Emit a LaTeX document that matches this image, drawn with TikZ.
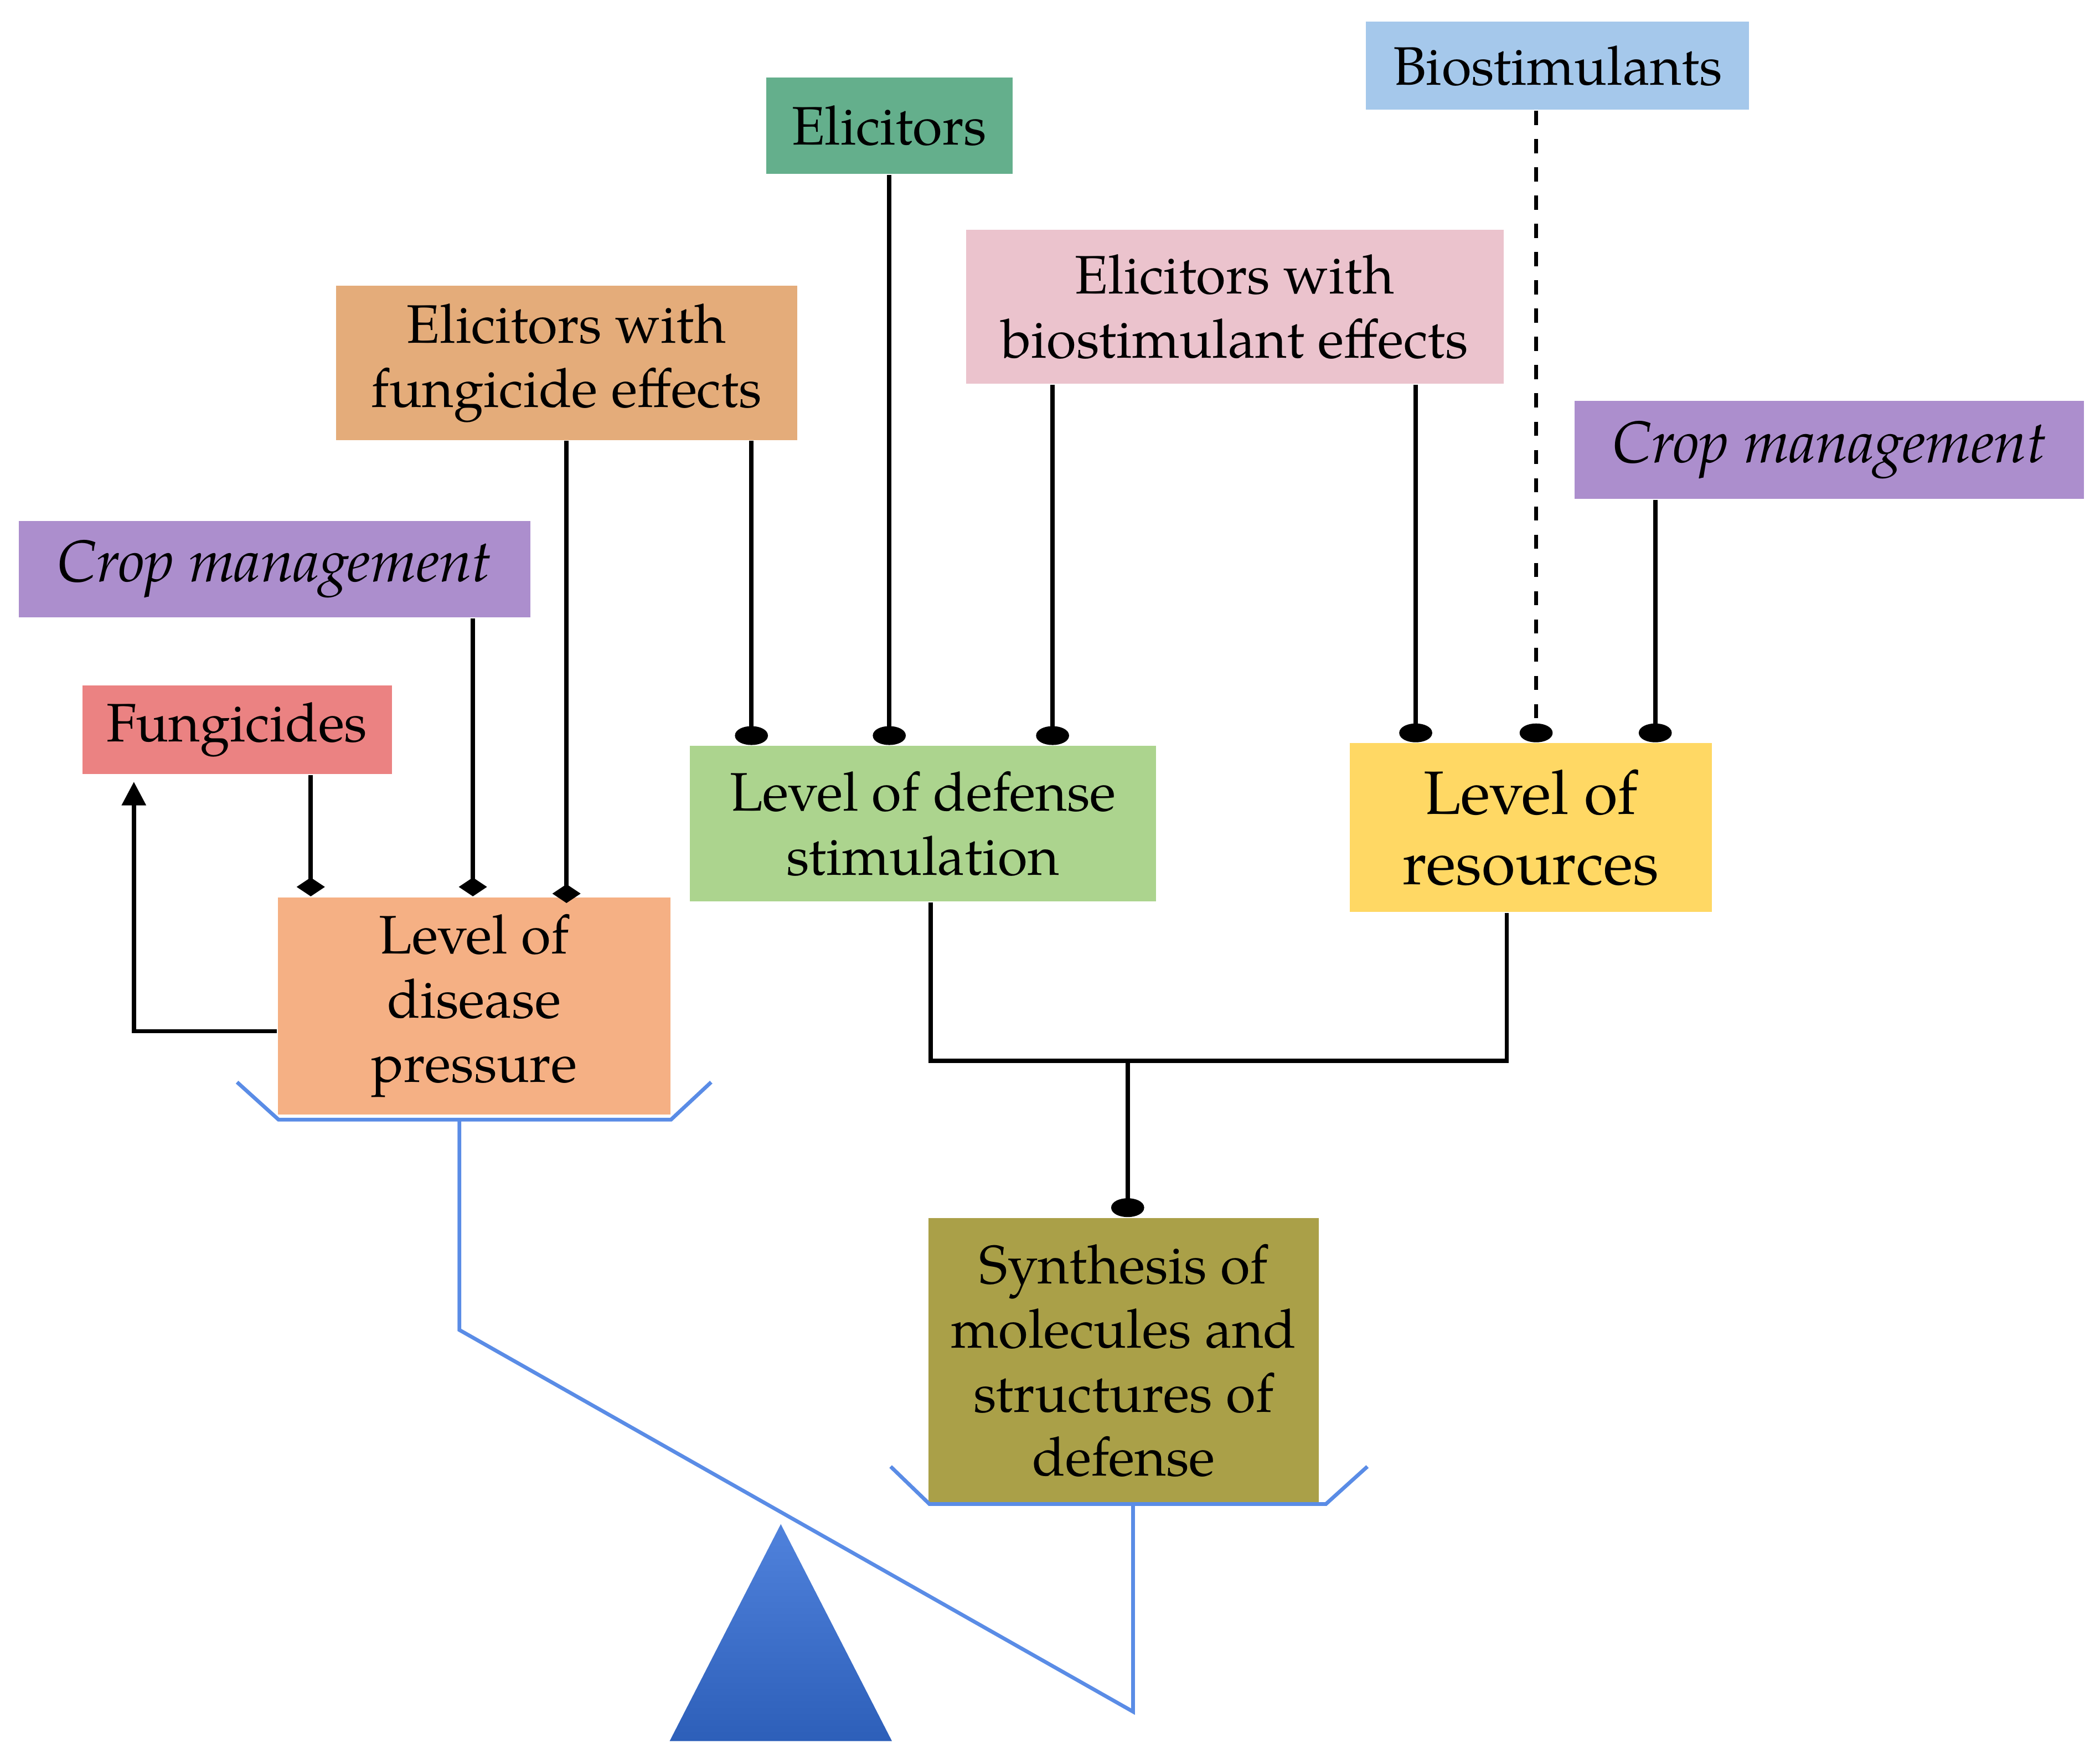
\documentclass[tikz,border=0pt]{standalone}
\usepackage{fontspec}
\setmainfont{TeX Gyre Pagella}[Scale=1]
\usetikzlibrary{arrows.meta}
\begin{document}
\begin{tikzpicture}[x=0.01cm,y=-0.01cm,
  box/.style={inner sep=0pt,align=center,font=\fontsize{11.5}{13.6}\selectfont},
  dot/.style={line width=0.9pt,-{Ellipse[length=4pt,width=7pt]}},
  dia/.style={line width=0.9pt,-{Diamond[length=4pt,width=6pt]}},
  scl/.style={draw={rgb,255:red,90;green,140;blue,230},line width=0.8pt}]
\useasboundingbox (0,0) rectangle (1568,1313);
\definecolor{cblue}{RGB}{165,200,235}
\definecolor{cgreen}{RGB}{100,175,140}
\definecolor{cpink}{RGB}{235,195,205}
\definecolor{corange}{RGB}{228,172,122}
\definecolor{cpurple}{RGB}{172,142,205}
\definecolor{cred}{RGB}{235,130,130}
\definecolor{clgreen}{RGB}{172,212,142}
\definecolor{cyellow}{RGB}{255,216,100}
\definecolor{csalmon}{RGB}{245,176,132}
\definecolor{colive}{RGB}{170,160,72}
\newcommand{\bx}[7]{\node[box,fill=#2,minimum width=#5cm-#4cm,minimum height=#7cm-#6cm] (#1) at ({(#4+#5)/2},{(#6+#7)/2}) {#3};}
\node[box,fill=cblue,minimum width=2.86cm,minimum height=0.66cm] (bio) at (1163,49) {Biostimulants};
\node[box,fill=cgreen,minimum width=1.84cm,minimum height=0.72cm] (eli) at (664,94) {Elicitors};
\node[box,fill=cpink,minimum width=4.01cm,minimum height=1.15cm] (eb) at (922,229) {Elicitors with\\biostimulant effects};
\node[box,fill=corange,minimum width=3.44cm,minimum height=1.15cm] (fe) at (423,271) {Elicitors with\\fungicide effects};
\node[box,fill=cpurple,minimum width=3.80cm,minimum height=0.73cm,font=\fontsize{12.5}{14}\selectfont\itshape] (cmr) at (1366,336) {Crop management};
\node[box,fill=cpurple,minimum width=3.82cm,minimum height=0.72cm,font=\fontsize{12.5}{14}\selectfont\itshape] (cml) at (205,425) {Crop management};
\node[box,fill=cred,minimum width=2.31cm,minimum height=0.66cm] (fun) at (177,545) {Fungicides};
\node[box,fill=clgreen,minimum width=3.48cm,minimum height=1.16cm] (ds) at (689,615) {Level of defense\\stimulation};
\node[box,fill=cyellow,minimum width=2.70cm,minimum height=1.26cm,font=\fontsize{13}{15}\selectfont] (res) at (1143,618) {Level of\\resources};
\node[box,fill=csalmon,minimum width=2.93cm,minimum height=1.62cm] (dp) at (354,751) {Level of\\disease\\pressure};
\node[box,fill=colive,minimum width=2.91cm,minimum height=2.13cm] (syn) at (839,1016) {Synthesis of\\molecules and\\structures of\\defense};
% connectors
\coordinate (c1) at ([xshift=0.55cm]fun.south);
\draw[dia] (c1) -- (c1 |- dp.north);
\coordinate (c2) at ([xshift=1.48cm]cml.south);
\draw[dia] (c2) -- (c2 |- dp.north);
\coordinate (c3) at (fe.south);
\draw[dia] (c3) -- ([yshift=-0.05cm]c3 |- dp.north);
\coordinate (c4) at ([xshift=1.38cm]fe.south);
\draw[dot] (c4) -- (c4 |- ds.north);
\draw[dot] (eli.south) -- (eli.south |- ds.north);
\coordinate (c5) at ([xshift=-1.36cm]eb.south);
\draw[dot] (c5) -- (c5 |- ds.north);
\coordinate (c6) at ([xshift=1.35cm]eb.south);
\draw[dot] (c6) -- (c6 |- res.north);
\coordinate (c7) at ([xshift=-0.16cm]bio.south);
\draw[dot,dashed] (c7) -- (c7 |- res.north);
\coordinate (c8) at ([xshift=-1.30cm]cmr.south);
\draw[dot] (c8) -- (c8 |- res.north);
\coordinate (c9) at (dp.west |- 0,770);
\coordinate (c10) at ([xshift=-0.77cm]fun.south);
\draw[line width=0.9pt,-{Triangle[length=5pt,width=5pt]}] (c9) -| ([yshift=-0.05cm]c10);
\coordinate (d1) at ([xshift=0.06cm]ds.south);
\coordinate (d2) at ([xshift=-0.18cm]res.south);
\coordinate (jm) at (842,792);
\draw[line width=0.9pt] (d1) |- (jm) -| (d2);
\draw[dot] (jm) -- (jm |- syn.north);
% scale
\draw[scl] (177,808) -- (208,836) -- (501,836) -- (531,808);
\draw[scl] (665,1095) -- (694,1123) -- (990,1123) -- (1021,1095);
\draw[scl] (343,836) -- (343,993) -- (846,1278) -- (846,1123);
\shade[top color={rgb,255:red,80;green,130;blue,220},bottom color={rgb,255:red,45;green,95;blue,185}] (500,1300) -- (666,1300) -- (583,1138) -- cycle;
\end{tikzpicture}
\end{document}
